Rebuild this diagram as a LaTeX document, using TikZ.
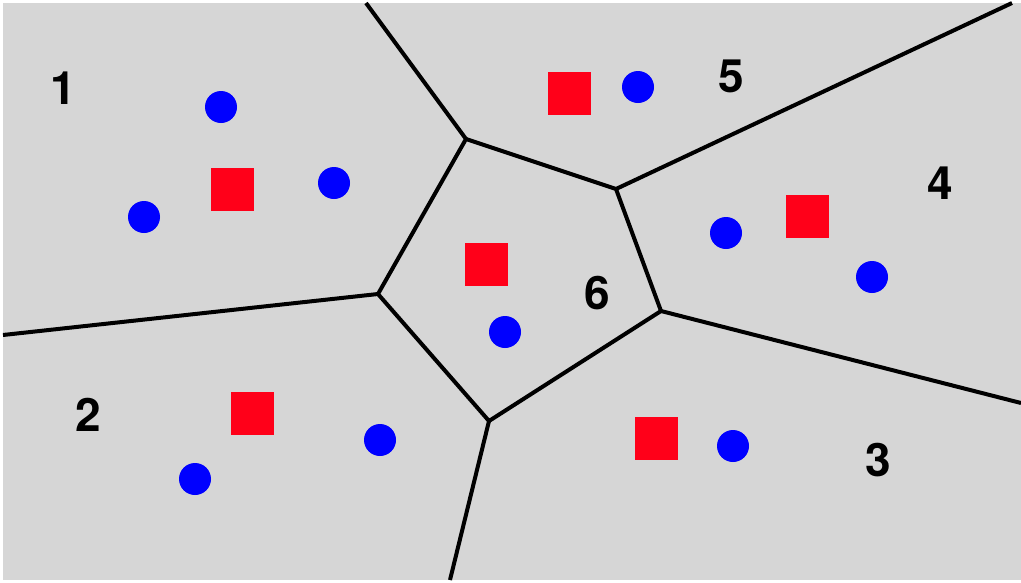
\documentclass[tikz,border=0pt]{standalone}
\usepackage{fontspec}
\setmainfont{TeX Gyre Heros}
\usetikzlibrary{positioning}
\definecolor{cellgray}{RGB}{214,214,214}
\definecolor{seedred}{RGB}{255,0,25}
\tikzset{
  cell/.style = {fill=cellgray, draw=none},
  border/.style = {line width=4pt, line join=round},
  seed/.style = {rectangle, fill=seedred, minimum size=43pt, inner sep=0pt},
  sample/.style = {circle, fill=blue, minimum size=32pt, inner sep=0pt},
  region/.style = {font=\bfseries\fontsize{46}{52}\selectfont, inner sep=0pt},
}

\begin{document}
\begin{tikzpicture}[x=1pt,y=-1pt]
  \useasboundingbox (0,0) rectangle (1021,582);
  \fill[cell] (3,3) rectangle (1021,580);

  % ----------------------------------------------------------------------
  % Cell borders
  % ----------------------------------------------------------------------
  \coordinate (vA) at (466,139);
  \coordinate (vB) at (616,189);
  \coordinate (vC) at (661,311);
  \coordinate (vD) at (489,421);
  \coordinate (vE) at (378,294);

  % ends on the frame
  \coordinate (eA) at (366,3);
  \coordinate (eB) at (1012,3);
  \coordinate (eC) at (1021,403);
  \coordinate (eD) at (450,580);
  \coordinate (eE) at (3,335);

  \draw[border] (vA) -- (vB) -- (vC) -- (vD) -- (vE) -- cycle;
  \foreach \v in {A,B,C,D,E} {
    \draw[border] (v\v) -- (e\v);
  }

  % ----------------------------------------------------------------------
  % Seeds and samples
  % ----------------------------------------------------------------------
  \foreach \n/\x/\y in {1/232.5/189.5, 2/252.5/413.5, 3/656.5/438.5,
                        4/807.5/216.5, 5/569.5/93.5, 6/486.5/264.5} {
    \node[seed] (sq\n) at (\x,\y) {};
  }

  \foreach \n/\x/\y in {1/221/107, 2/334/183, 3/144/217, 4/505/332, 5/638/87,
                        6/726/233, 7/872/277, 8/195/479, 9/380/440, 10/733/446} {
    \node[sample] (pt\n) at (\x,\y) {};
  }

  % Region numbers
  \foreach \n/\x/\y in {1/63/88, 2/88/415, 3/878/460, 4/940/183, 5/731/76, 6/597/293} {
    \node[region] (lbl\n) at (\x,\y) {\n};
  }

\end{tikzpicture}
\end{document}
